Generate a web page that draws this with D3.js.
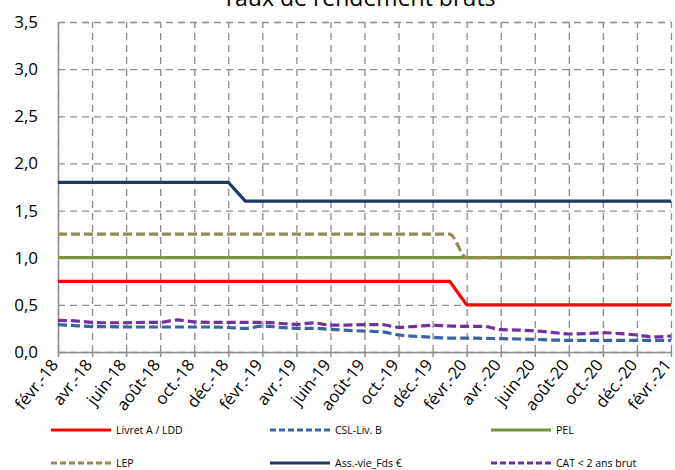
<!DOCTYPE html>
<html>
<head>
<meta charset="utf-8">
<script src="https://cdn.jsdelivr.net/npm/d3@7"></script>
<style>
  body { margin: 0; background: #fff; }
  svg { display: block; font-family: "Open Sans", sans-serif; }
</style>
</head>
<body>
<svg id="chart" width="675" height="470"></svg>
<script>
const months = [
  "févr.-18", "mars-18", "avr.-18", "mai-18", "juin-18", "juil.-18", "août-18", "sept.-18", "oct.-18", "nov.-18", "déc.-18",
  "janv.-19", "févr.-19", "mars-19", "avr.-19", "mai-19", "juin-19", "juil.-19", "août-19", "sept.-19", "oct.-19", "nov.-19", "déc.-19",
  "janv.-20", "févr.-20", "mars-20", "avr.-20", "mai-20", "juin-20", "juil.-20", "août-20", "sept.-20", "oct.-20", "nov.-20", "déc.-20",
  "janv.-21", "févr.-21"
];

const livretA = [
  0.75, 0.75, 0.75, 0.75, 0.75, 0.75, 0.75, 0.75, 0.75, 0.75, 0.75,
  0.75, 0.75, 0.75, 0.75, 0.75, 0.75, 0.75, 0.75, 0.75, 0.75, 0.75, 0.75,
  0.75, 0.5, 0.5, 0.5, 0.5, 0.5, 0.5, 0.5, 0.5, 0.5, 0.5, 0.5,
  0.5, 0.5
];
const cslLivB = [
  0.29, 0.28, 0.27, 0.27, 0.265, 0.265, 0.265, 0.265, 0.265, 0.265, 0.26,
  0.25, 0.275, 0.262, 0.251, 0.251, 0.24, 0.23, 0.222, 0.215, 0.18, 0.166, 0.156,
  0.148, 0.148, 0.145, 0.141, 0.138, 0.134, 0.127, 0.124, 0.124, 0.124, 0.124, 0.124,
  0.124, 0.124
];
const pel = [
  1, 1, 1, 1, 1, 1, 1, 1, 1, 1, 1,
  1, 1, 1, 1, 1, 1, 1, 1, 1, 1, 1, 1,
  1, 1, 1, 1, 1, 1, 1, 1, 1, 1, 1, 1,
  1, 1
];
const lep = [
  1.25, 1.25, 1.25, 1.25, 1.25, 1.25, 1.25, 1.25, 1.25, 1.25, 1.25,
  1.25, 1.25, 1.25, 1.25, 1.25, 1.25, 1.25, 1.25, 1.25, 1.25, 1.25, 1.25,
  1.25, 1, 1, 1, 1, 1, 1, 1, 1, 1, 1, 1,
  1, 1
];
const assVie = [
  1.8, 1.8, 1.8, 1.8, 1.8, 1.8, 1.8, 1.8, 1.8, 1.8, 1.8,
  1.6, 1.6, 1.6, 1.6, 1.6, 1.6, 1.6, 1.6, 1.6, 1.6, 1.6, 1.6,
  1.6, 1.6, 1.6, 1.6, 1.6, 1.6, 1.6, 1.6, 1.6, 1.6, 1.6, 1.6,
  1.6, 1.6
];
const cat2ans = [
  0.336, 0.33, 0.315, 0.31, 0.31, 0.315, 0.315, 0.34, 0.32, 0.315, 0.315,
  0.315, 0.315, 0.305, 0.293, 0.308, 0.286, 0.286, 0.29, 0.29, 0.262, 0.272, 0.283,
  0.276, 0.272, 0.272, 0.237, 0.233, 0.223, 0.209, 0.191, 0.195, 0.205, 0.195, 0.18,
  0.16, 0.17
];

const yTicks = [0, 0.5, 1, 1.5, 2, 2.5, 3, 3.5];
const xTicks = months.filter((m, i) => i % 2 === 0);

const series = [
  { name: "Livret A / LDD", values: livretA, color: "#ff0000", dash: null, smooth: false },
  { name: "CSL-Liv. B", values: cslLivB, color: "#3a64a0", dash: "9,4", smooth: true },
  { name: "PEL", values: pel, color: "#77933c", dash: null, smooth: false },
  { name: "LEP", values: lep, color: "#948a54", dash: "9,4", smooth: true },
  { name: "Ass.-vie_Fds €", values: assVie, color: "#1f3864", dash: null, smooth: false },
  { name: "CAT < 2 ans brut", values: cat2ans, color: "#7030a0", dash: "9,4", smooth: true }
];

function drawChart(svg) {
    const margin = { top: 22, right: 4, bottom: 118, left: 58 };
    const width = +svg.attr('width');
    const height = +svg.attr('height');
    const innerWidth = width - margin.left - margin.right;
    const innerHeight = height - margin.top - margin.bottom;

    const frLocale = d3.formatLocale({ decimal: ",", thousands: " ", grouping: [3], currency: ["", " €"] });
    const fmt = frLocale.format(".1f");

    const g = svg.append('g').attr('transform', `translate(${margin.left},${margin.top})`);

    const x = d3.scalePoint().domain(months).range([0, innerWidth]);
    const y = d3.scaleLinear().domain([0, 3.5]).range([innerHeight, 0]);

    // title (partly cut at top, as in the source)
    svg.append('text')
        .attr('x', 359)
        .attr('y', 6)
        .attr('text-anchor', 'middle')
        .style('font-size', '23px')
        .style('fill', '#000')
        .text('Taux de rendement bruts');

    // horizontal grid
    g.append('g')
        .call(d3.axisLeft(y).tickValues(yTicks).tickSize(-innerWidth).tickFormat(''))
        .call(a => a.select('.domain').remove())
        .selectAll('line')
        .style('stroke', '#8c8c8c')
        .style('stroke-width', 1.3)
        .style('stroke-dasharray', '7,5');

    // vertical grid
    g.append('g')
        .attr('transform', `translate(0,${innerHeight})`)
        .call(d3.axisBottom(x).tickValues(xTicks).tickSize(-innerHeight).tickFormat(''))
        .call(a => a.select('.domain').remove())
        .selectAll('line')
        .style('stroke', '#8c8c8c')
        .style('stroke-width', 1.3)
        .style('stroke-dasharray', '7,5');

    // y axis
    const yAxis = g.append('g')
        .call(d3.axisLeft(y).tickValues(yTicks).tickSize(0).tickPadding(20).tickFormat(fmt));
    yAxis.select('.domain').style('stroke', '#8c8c8c').style('stroke-width', 1.5);
    yAxis.selectAll('text').style('font-size', '17px').style('fill', '#000').style('font-family', '"Open Sans", sans-serif');

    // x axis
    const xAxis = g.append('g')
        .attr('transform', `translate(0,${innerHeight})`)
        .call(d3.axisBottom(x).tickValues(xTicks).tickSizeInner(5).tickSizeOuter(0).tickFormat(''));
    xAxis.select('.domain').style('stroke', '#8c8c8c').style('stroke-width', 1.5);
    xAxis.selectAll('line').style('stroke', '#8c8c8c').style('stroke-width', 1.5);

    g.append('g')
        .selectAll('text')
        .data(xTicks)
        .enter()
        .append('text')
        .attr('transform', d => `translate(${x(d) + 1},${innerHeight + 13}) rotate(-52)`)
        .attr('text-anchor', 'end')
        .style('font-size', '16.5px')
        .style('fill', '#000')
        .text(d => d);

    // lines
    series.forEach(s => {
        const line = d3.line()
            .x((d, i) => x(months[i]))
            .y(d => y(d))
            .curve(s.smooth ? d3.curveMonotoneX : d3.curveLinear);
        g.append('path')
            .datum(s.values)
            .attr('d', line)
            .style('fill', 'none')
            .style('stroke', s.color)
            .style('stroke-width', 3.2)
            .style('stroke-dasharray', s.dash)
            .style('stroke-linejoin', 'round');
    });

    // legend, 3 columns x 2 rows
    const legCols = [51, 270, 491];
    const legRows = [430, 463];
    const leg = svg.append('g')
        .selectAll('g')
        .data(series)
        .enter()
        .append('g')
        .attr('transform', (d, i) => `translate(${legCols[i % 3]},${legRows[Math.floor(i / 3)]})`);

    leg.append('line')
        .attr('x1', 0).attr('x2', 60)
        .attr('y1', 0).attr('y2', 0)
        .style('stroke', d => d.color)
        .style('stroke-width', 3)
        .style('stroke-dasharray', d => d.dash ? '6,3' : null);

    leg.append('text')
        .attr('x', 65)
        .attr('y', 0)
        .attr('dy', '0.35em')
        .style('font-size', '10.5px')
        .style('fill', '#000')
        .text(d => d.name);
}

drawChart(d3.select('#chart'));
</script>
</body>
</html>
